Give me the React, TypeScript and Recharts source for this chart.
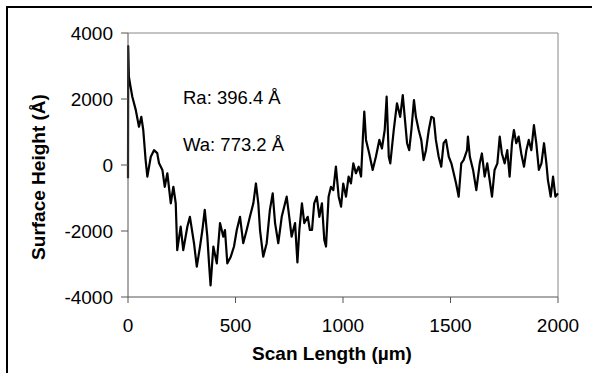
import React from 'react';
import { LineChart, Line, XAxis, YAxis, ReferenceLine, Label } from 'recharts';

const scanLength = [
  0, 1, 4, 13, 20, 36, 51, 62, 71, 82, 90, 106, 121, 136, 144, 160, 171, 183, 199, 211, 222, 229, 245, 257, 276, 288, 307, 320, 335, 346, 357, 369, 377, 384,
  397, 413, 428, 443, 451, 462, 478, 493, 506, 521, 536, 552, 567, 583, 595, 606, 614, 629, 645, 660, 673, 684, 699, 715, 738, 750, 761, 777, 788,
  797, 809, 820, 836, 846, 856, 866, 878, 890, 902, 913, 921, 933, 944, 955, 967, 980, 991, 1001, 1014, 1026, 1037, 1048, 1060, 1073, 1084, 1092, 1099, 1107,
  1122, 1138, 1153, 1169, 1181, 1194, 1203, 1213, 1220, 1236, 1251, 1266, 1278, 1287, 1298, 1308, 1318, 1330, 1339, 1352, 1364, 1375, 1386, 1399, 1411, 1422,
  1432, 1445, 1457, 1468, 1479, 1492, 1504, 1515, 1526, 1538, 1550, 1561, 1577, 1581, 1590, 1605, 1620, 1636, 1646, 1659, 1671, 1682, 1693, 1705, 1718, 1729,
  1739, 1752, 1764, 1775, 1786, 1795, 1806, 1817, 1829, 1842, 1853, 1864, 1876, 1888, 1899, 1911, 1923, 1935, 1946, 1953, 1966, 1977, 1988, 2000,
];

const surfaceHeight = [
  -400, 3600, 2680, 2330, 2070, 1670, 1160, 1460, 1060, 150, -350, 250, 450, 360, 60, -150, -660, -250, -1160, -660, -1160, -2580, -1870, -2580, -1870, -1570, -2370, -3080, -2470, -1970, -1360, -2170, -3000, -3650,
  -2470, -2980, -1760, -2170, -1970, -2980, -2780, -2470, -1970, -1570, -2370, -1970, -1570, -1160, -560, -1160, -1970, -2780, -2370, -1360, -860, -1760, -2370, -1570, -960, -1570, -2170, -1760, -2950,
  -1970, -1160, -1760, -1570, -1970, -1970, -1160, -960, -1570, -1160, -2270, -2470, -960, -660, -760, -50, -960, -1260, -560, -960, -350, -560, 50, -250, -50, -350, 760, 1620, 760,
  350, -150, 250, 760, 500, 1060, 2070, 250, 50, 1060, 1870, 1460, 2120, 1460, 660, 450, 1060, 1970, 1460, 1060, 760, 150, 450, 1060, 1460, 1420,
  760, 250, -50, 660, 760, 250, 50, -250, -560, -960, 50, 150, 450, 860, 250, -150, -760, 50, 350, -350, 50, -450, -960, -150, 50, 860,
  350, 50, 450, -350, 660, 1060, 660, 860, 350, -50, 450, 760, 450, 1210, 660, -150, 50, 660, 50, -450, -960, -350, -960, -860,
];

const xTicks = [0, 500, 1000, 1500, 2000];
const yTicks = [-4000, -2000, 0, 2000, 4000];
const annotations = ['Ra: 396.4 Å', 'Wa: 773.2 Å'];
const xTitle = 'Scan Length (µm)';
const yTitle = 'Surface Height (Å)';

const data = scanLength.map((x, i) => ({ x, v: surfaceHeight[i] }));

const FONT = '"Liberation Sans", Arial, Helvetica, sans-serif';

export default function App() {
  return (
    <div style={{ position: 'absolute', left: 0, top: 0, width: 592, height: 373, background: '#fff', overflow: 'hidden' }}>
      <div style={{ position: 'absolute', left: 6, top: 6, width: 600, height: 400, borderTop: '2px solid #000', borderLeft: '2px solid #000' }} />
      <LineChart width={592} height={373} data={data} margin={{ top: 33, right: 34, bottom: 16, left: 48 }} style={{ position: 'absolute', left: 0, top: 0 }}>
        <XAxis
          dataKey="x"
          type="number"
          domain={[0, 2000]}
          ticks={xTicks}
          height={60}
          tickSize={6}
          tickMargin={16}
          stroke="#555"
          tick={{ fill: '#000', fontSize: 19, fontFamily: FONT }}
          tickLine={{ stroke: '#555' }}
          axisLine={{ stroke: '#555' }}
        >
          <Label
            content={() => (
              <text x={332} y={360} textAnchor="middle" fontFamily={FONT} fontWeight="bold" fontSize={19} fill="#000">
                {xTitle}
              </text>
            )}
          />
        </XAxis>
        <YAxis
          type="number"
          domain={[-4000, 4000]}
          ticks={yTicks}
          width={80}
          tickSize={7}
          tickMargin={8}
          stroke="#555"
          tick={{ fill: '#000', fontSize: 19, fontFamily: FONT }}
          tickLine={{ stroke: '#555' }}
          axisLine={{ stroke: '#555' }}
          interval={0}
        >
          <Label
            content={() => (
              <text x={45} y={177} transform="rotate(-90 45 177)" textAnchor="middle" fontFamily={FONT} fontWeight="bold" fontSize={19} fill="#000">
                {yTitle}
              </text>
            )}
          />
        </YAxis>
        <ReferenceLine y={4000} stroke="#888" strokeWidth={1} ifOverflow="visible" />
        <ReferenceLine x={2000} stroke="#888" strokeWidth={1} ifOverflow="visible" />
        <Line type="linear" dataKey="v" stroke="#000" strokeWidth={2.2} strokeLinejoin="round" dot={false} isAnimationActive={false} />
      </LineChart>
      <div style={{ position: 'absolute', left: 183, top: 87, fontFamily: FONT, fontSize: 18.5, color: '#000', whiteSpace: 'nowrap', lineHeight: '22px' }}>
        {annotations[0]}
      </div>
      <div style={{ position: 'absolute', left: 183, top: 134, fontFamily: FONT, fontSize: 18.5, color: '#000', whiteSpace: 'nowrap', lineHeight: '22px' }}>
        {annotations[1]}
      </div>
    </div>
  );
}
